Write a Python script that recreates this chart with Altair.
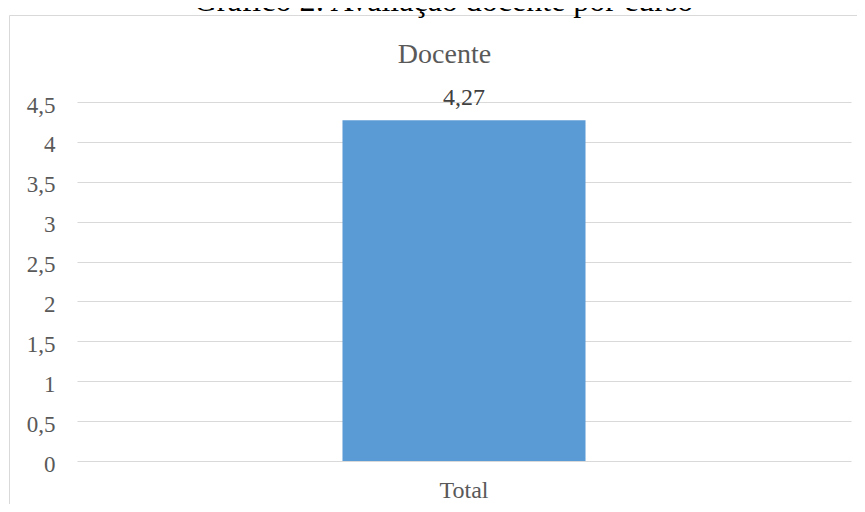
import altair as alt
import pandas as pd

categories = ["Total"]
values = [4.27]
y_ticks = [0, 0.5, 1, 1.5, 2, 2.5, 3, 3.5, 4, 4.5]
main_title = "Gráfico 2: Avaliação docente por curso"
chart_title = "Docente"

df = pd.DataFrame({"curso": categories, "media": values})

FONT = "Liberation Serif"
base = alt.Chart(df)

x_enc = alt.X(
    "curso:N",
    scale=alt.Scale(paddingInner=0.0845, paddingOuter=1),
    axis=alt.Axis(title=None, labelAngle=0, domain=False, ticks=False, grid=False,
                  labelFontSize=24, labelColor="#595959", labelFont=FONT, labelPadding=17),
)
y_enc = alt.Y(
    "media:Q",
    scale=alt.Scale(domain=[0, 4.5], nice=False, zero=True),
    axis=alt.Axis(title=None, values=y_ticks, format="~g", domain=False, ticks=False,
                  grid=True, gridColor="#d9d9d9", gridWidth=1, labelOverlap=False,
                  labelFontSize=23, labelColor="#595959", labelFont=FONT,
                  labelPadding=22, labelOffset=3),
)

border = base.mark_rect(fillOpacity=0, stroke="#d9d9d9", strokeWidth=1).encode(
    x=alt.value(-67.5), x2=alt.value(900), y=alt.value(-86.5), y2=alt.value(500)
)
bars = base.mark_bar(color="#5B9BD5").encode(x=x_enc, y=y_enc)
labels = base.mark_text(font=FONT, fontSize=24, color="#404040",
                        baseline="alphabetic", dy=-15).encode(
    x=x_enc, y=y_enc,
    text=alt.Text("media:Q", format=".2f"),
)
t1 = base.mark_text(font=FONT, fontSize=32, color="#000000", align="center",
                    baseline="alphabetic").encode(
    x=alt.value(366.5), y=alt.value(-91), text=alt.value(main_title)
)
t2 = base.mark_text(font=FONT, fontSize=28, color="#595959", align="center",
                    baseline="alphabetic").encode(
    x=alt.value(367.5), y=alt.value(-39), text=alt.value(chart_title)
)

chart = alt.layer(border, bars, labels, t1, t2).properties(
    width=774,
    height=359,
    autosize=alt.AutoSizeParams(type="none"),
    padding={"left": 69, "top": 94, "right": 6, "bottom": 43},
).configure(
    locale={"number": {"decimal": ",", "thousands": ".", "grouping": [3],
                       "currency": ["R$", ""]}},
    view={"strokeWidth": 0, "stroke": "transparent"},
)

chart.save("out.html", embed_options={"renderer": "svg", "actions": False})
